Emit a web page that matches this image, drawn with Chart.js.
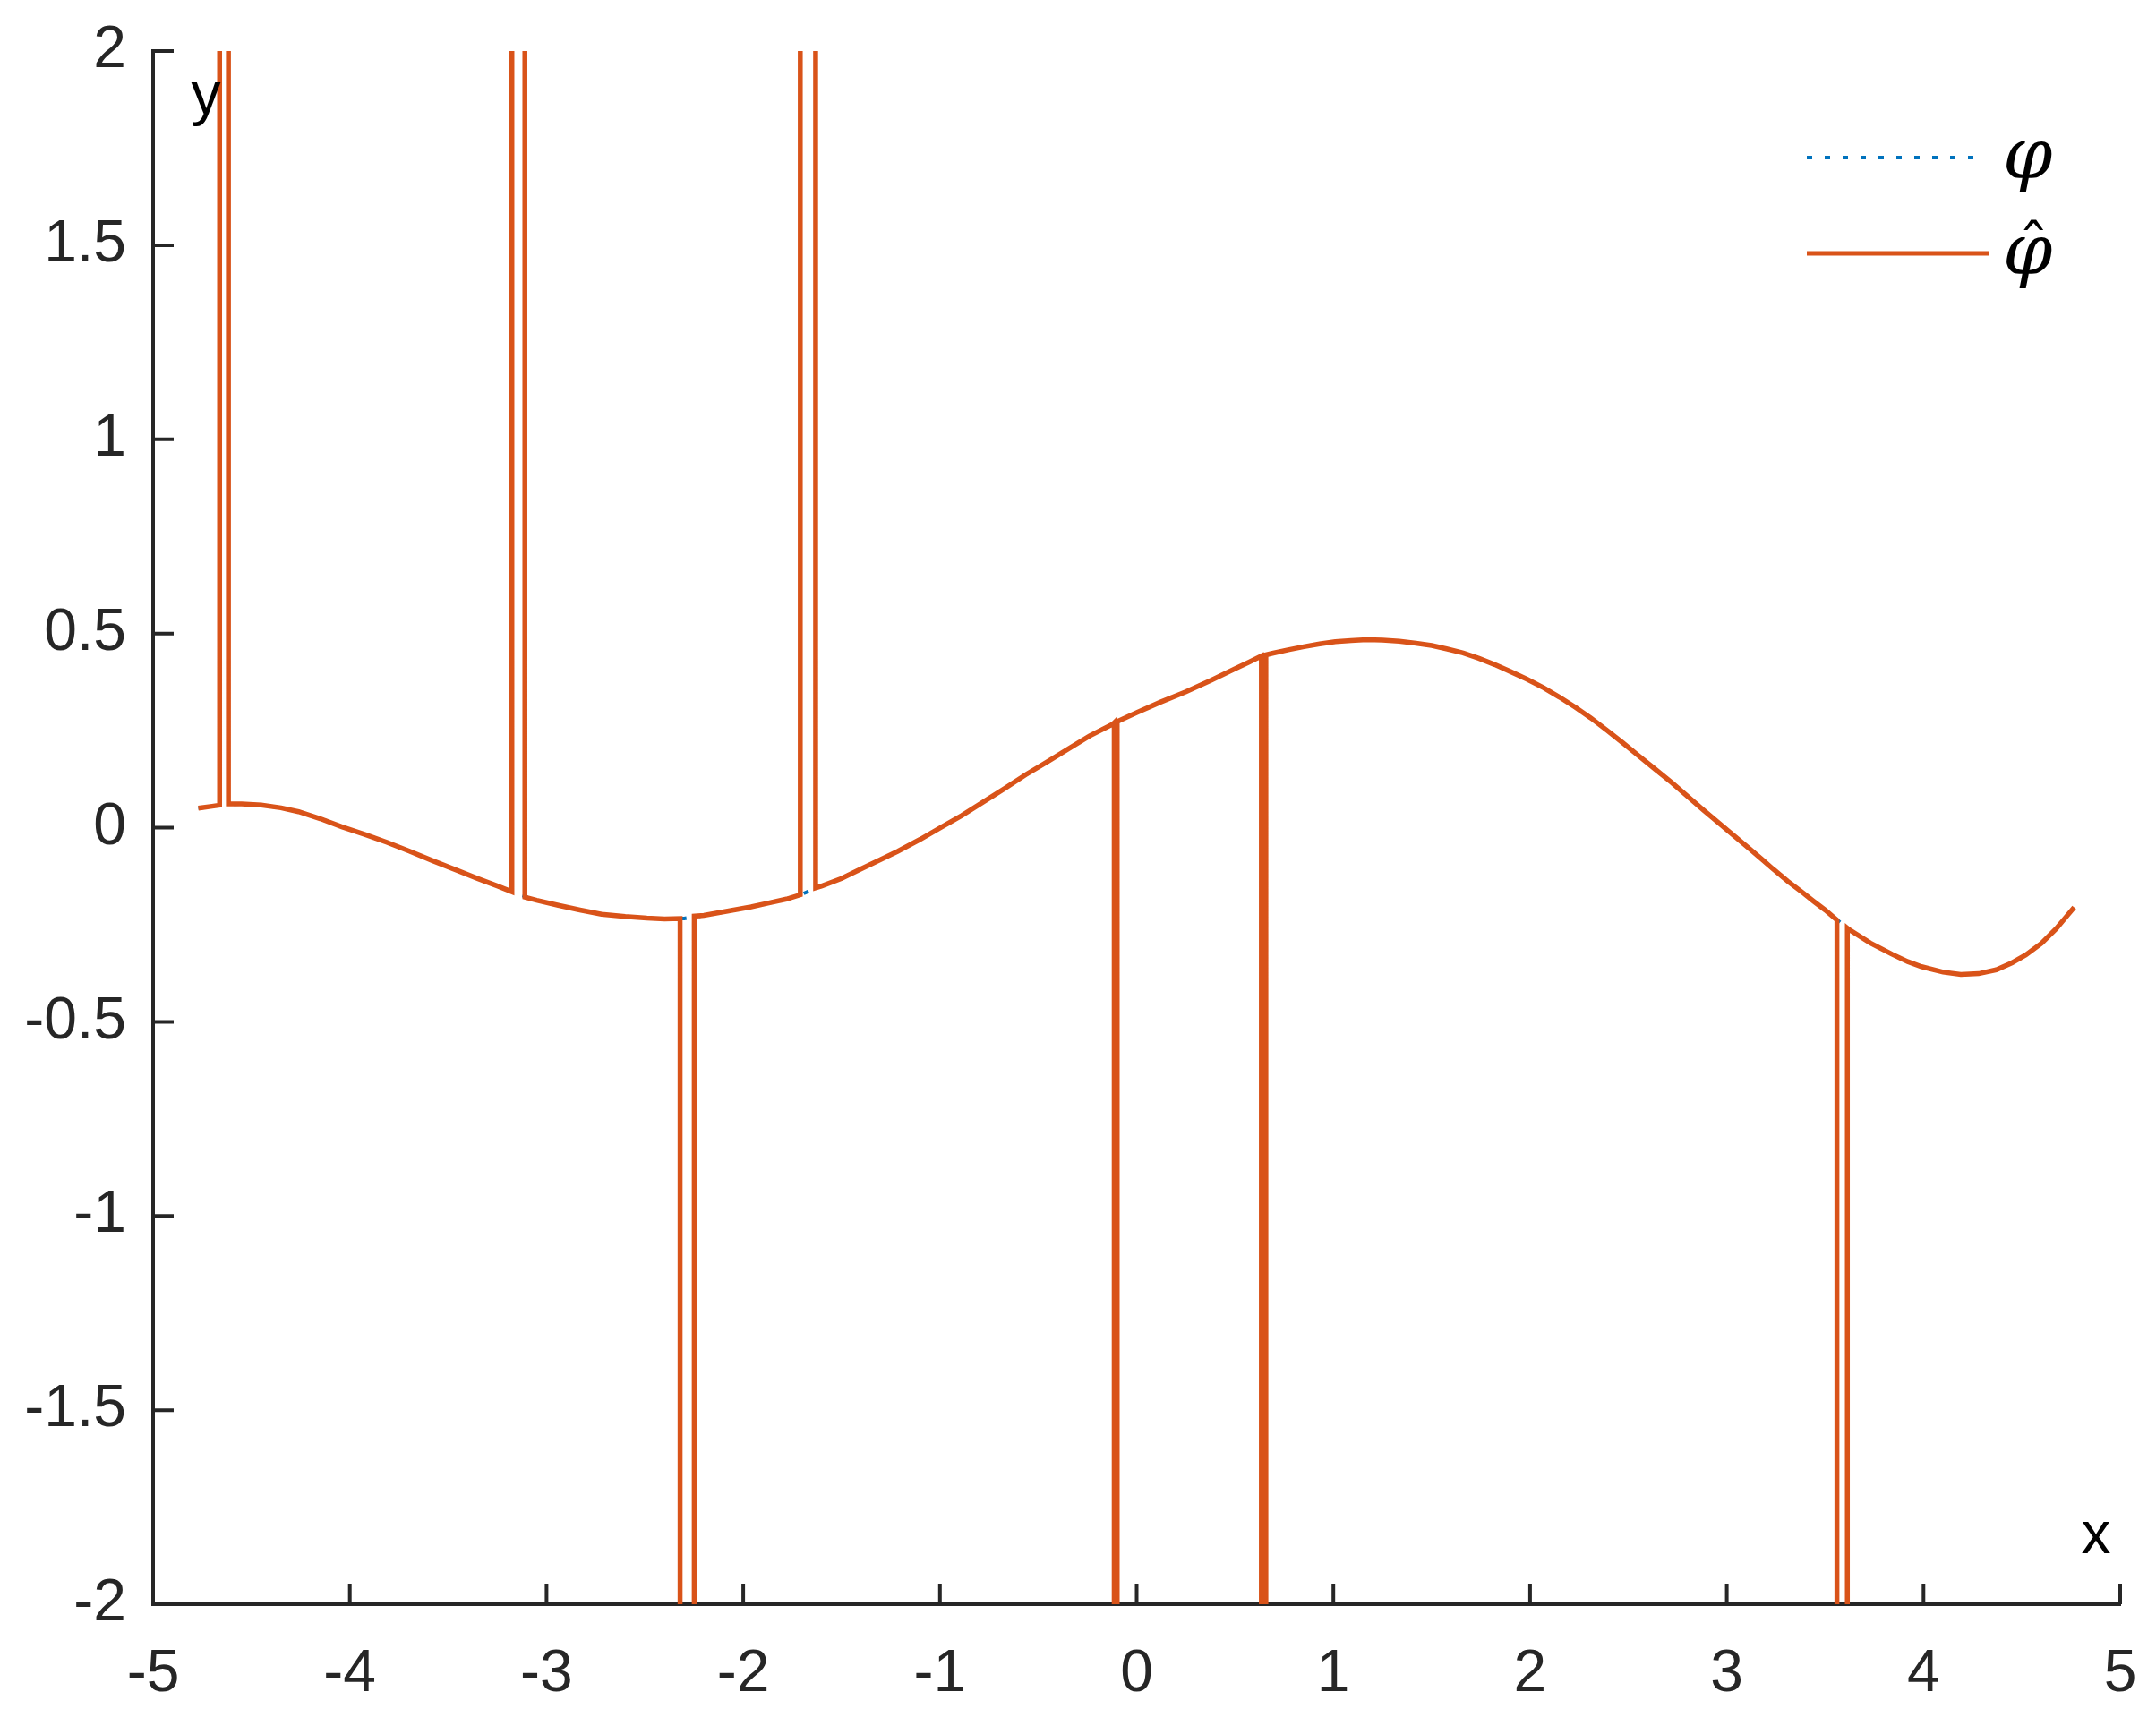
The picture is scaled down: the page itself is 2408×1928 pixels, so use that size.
<!DOCTYPE html>
<html>
<head>
<meta charset="utf-8">
<script src="https://cdn.jsdelivr.net/npm/chart.js@4.4.0/dist/chart.umd.min.js"></script>
<style>
  html, body { margin: 0; padding: 0; background: #fff; }
  #wrap { width: 2408px; height: 1928px; }
</style>
</head>
<body>
<div id="wrap"><canvas id="chart" width="2408" height="1928"></canvas></div>
<script>
// smooth curve phi
const phiX = [-4.77, -4.70, -4.62, -4.55, -4.45, -4.35, -4.26, -4.15, -4.04, -3.92,
              -3.81, -3.70, -3.58, -3.45, -3.35, -3.25, -3.15, -3.05, -2.94, -2.83,
              -2.72, -2.60, -2.49, -2.40, -2.30, -2.20, -2.08, -1.96, -1.87, -1.78,
              -1.70, -1.60, -1.50, -1.40, -1.30, -1.215, -1.10, -1.00, -0.89, -0.78,
              -0.67, -0.565, -0.45, -0.35, -0.24, -0.12, 0.00, 0.12, 0.25, 0.38,
              0.50, 0.57, 0.63, 0.69, 0.77, 0.85, 0.93, 1.01, 1.09, 1.17,
              1.25, 1.335, 1.42, 1.50, 1.58, 1.66, 1.74, 1.82, 1.90, 1.985,
              2.07, 2.15, 2.23, 2.31, 2.39, 2.47, 2.55, 2.635, 2.72, 2.80,
              2.88, 2.96, 3.04, 3.12, 3.18, 3.234, 3.31, 3.385, 3.44, 3.50,
              3.62, 3.73, 3.84, 3.92, 3.99, 4.10, 4.19, 4.28, 4.37, 4.45,
              4.52, 4.60, 4.675, 4.72, 4.766];
const phiY = [0.050, 0.055, 0.060, 0.061, 0.058, 0.051, 0.041, 0.023, 0.002, -0.018,
              -0.038, -0.060, -0.085, -0.111, -0.131, -0.150, -0.170, -0.187, -0.200, -0.212,
              -0.223, -0.229, -0.233, -0.235, -0.234, -0.226, -0.215, -0.204, -0.194, -0.184,
              -0.171, -0.150, -0.131, -0.106, -0.082, -0.061, -0.030, -0.001, 0.031, 0.066,
              0.101, 0.136, 0.171, 0.202, 0.236, 0.267, 0.296, 0.323, 0.350, 0.380,
              0.409, 0.426, 0.441, 0.449, 0.458, 0.466, 0.473, 0.479, 0.482, 0.484,
              0.483, 0.480, 0.475, 0.469, 0.460, 0.450, 0.436, 0.420, 0.402, 0.382,
              0.360, 0.336, 0.310, 0.282, 0.251, 0.219, 0.186, 0.151, 0.116, 0.081,
              0.046, 0.012, -0.022, -0.056, -0.082, -0.106, -0.138, -0.167, -0.189, -0.212,
              -0.262, -0.297, -0.326, -0.345, -0.358, -0.372, -0.378, -0.376, -0.366, -0.348,
              -0.328, -0.298, -0.260, -0.233, -0.205];

// spikes of phi-hat: the line leaves the plot at spikeFrom and comes back at spikeTo
const spikeFrom  = [-4.662, -3.176, -2.321, -1.710, -0.114, 0.634, 3.560];
const spikeTo    = [-4.617, -3.110, -2.249, -1.632, -0.099, 0.657, 3.613];
const spikeFromY = [0.058, -0.165, -0.234, -0.173, 0.270, 0.442, -0.238];
const spikeToY   = [0.061, -0.179, -0.228, -0.155, 0.273, 0.445, -0.259];
const spikeTip   = [40, 40, -40, 40, -40, -40, -40];

const xTicks = [-5, -4, -3, -2, -1, 0, 1, 2, 3, 4, 5];
const yTicks = [-2, -1.5, -1, -0.5, 0, 0.5, 1, 1.5, 2];

const legendLabels = ['\u03C6', '\u03C6'];

function phiPoints() {
    return phiX.map((x, i) => ({ x: x, y: phiY[i] }));
}

function hatPoints() {
    const pts = [];
    let s = 0;
    for (let i = 0; i < phiX.length; i++) {
        const x = phiX[i];
        while (s < spikeFrom.length && spikeFrom[s] < x) {
            pts.push({ x: spikeFrom[s], y: spikeFromY[s] });
            pts.push({ x: spikeFrom[s], y: spikeTip[s] });
            pts.push({ x: spikeTo[s], y: spikeTip[s] });
            pts.push({ x: spikeTo[s], y: spikeToY[s] });
            s++;
        }
        const inGap = spikeFrom.some((a, k) => x > a && x < spikeTo[k]);
        if (!inGap) pts.push({ x: x, y: phiY[i] });
    }
    return pts;
}

const BLUE = '#0072BD';
const ORANGE = '#D95319';
const AXIS = '#262626';
const SYMBOL_FONT = '"DejaVu Serif", "Liberation Serif", serif';

// inner tick marks, axis letters and the legend
const decorations = {
    id: 'decorations',
    afterDraw(chart) {
        const ctx = chart.ctx;
        const a = chart.chartArea;
        const xs = chart.scales.x, ys = chart.scales.y;
        ctx.save();
        ctx.strokeStyle = AXIS;
        ctx.lineWidth = 4;
        ctx.beginPath();
        xTicks.forEach(v => {
            const px = xs.getPixelForValue(v);
            ctx.moveTo(px, a.bottom);
            ctx.lineTo(px, a.bottom - 23);
        });
        yTicks.forEach(v => {
            const py = ys.getPixelForValue(v);
            ctx.moveTo(a.left, py);
            ctx.lineTo(a.left + 23, py);
        });
        ctx.stroke();

        // axis letters
        ctx.fillStyle = '#000';
        ctx.font = '66px "Liberation Sans", Arial, sans-serif';
        ctx.textAlign = 'center';
        ctx.textBaseline = 'alphabetic';
        ctx.fillText('y', 230, 127);
        ctx.fillText('x', 2341, 1735);

        // legend lines
        ctx.lineCap = 'butt';
        ctx.strokeStyle = BLUE;
        ctx.lineWidth = 4;
        ctx.setLineDash([6, 14]);
        ctx.beginPath();
        ctx.moveTo(2018, 176);
        ctx.lineTo(2210, 176);
        ctx.stroke();
        ctx.setLineDash([]);
        ctx.strokeStyle = ORANGE;
        ctx.lineWidth = 5;
        ctx.beginPath();
        ctx.moveTo(2018, 283);
        ctx.lineTo(2221, 283);
        ctx.stroke();

        // legend symbols, sized to the reference glyph boxes
        ctx.textAlign = 'left';
        ctx.font = 'italic 100px ' + SYMBOL_FONT;
        const m = ctx.measureText(legendLabels[0]);
        const h = m.actualBoundingBoxAscent + m.actualBoundingBoxDescent;
        const size = 100 * 57 / h;
        ctx.font = 'italic ' + size + 'px ' + SYMBOL_FONT;
        const m2 = ctx.measureText(legendLabels[0]);
        const asc = m2.actualBoundingBoxAscent;
        const left = m2.actualBoundingBoxLeft;
        ctx.fillText(legendLabels[0], 2240 + left, 158 + asc);
        ctx.fillText(legendLabels[1], 2240 + left, 265 + asc);
        // hat over the second symbol
        ctx.font = size + 'px ' + SYMBOL_FONT;
        const mh = ctx.measureText('\u02C6');
        const hw = mh.actualBoundingBoxLeft + mh.actualBoundingBoxRight;
        const hh = mh.actualBoundingBoxAscent + mh.actualBoundingBoxDescent;
        ctx.save();
        ctx.translate(2260, 245);
        ctx.scale(23 / hw, 12 / hh);
        ctx.fillText('\u02C6', mh.actualBoundingBoxLeft, mh.actualBoundingBoxAscent);
        ctx.restore();
        ctx.restore();
    }
};

new Chart(document.getElementById('chart'), {
    type: 'line',
    data: {
        datasets: [
            {
                label: '\u03C6\u0302',
                data: hatPoints(),
                borderColor: ORANGE,
                borderWidth: 5.5,
                pointRadius: 0,
                tension: 0,
                order: 0
            },
            {
                label: '\u03C6',
                data: phiPoints(),
                borderColor: BLUE,
                borderWidth: 4,
                borderDash: [6, 14],
                pointRadius: 0,
                tension: 0,
                order: 1
            }
        ]
    },
    options: {
        responsive: false,
        devicePixelRatio: 1,
        animation: false,
        layout: { padding: { top: 57, right: 40, left: 0, bottom: 0 } },
        plugins: { legend: { display: false }, tooltip: { enabled: false } },
        scales: {
            x: {
                type: 'linear',
                min: -5,
                max: 5,
                afterBuildTicks: s => { s.ticks = xTicks.map(v => ({ value: v })); },
                afterFit: s => { s.height = 136; s.paddingLeft = 0; s.paddingRight = 0; },
                grid: { display: false },
                border: { display: true, color: AXIS, width: 4 },
                ticks: {
                    color: AXIS,
                    font: { family: '"Liberation Sans", Arial, sans-serif', size: 66 },
                    padding: 31,
                    maxRotation: 0,
                    callback: v => String(v)
                }
            },
            y: {
                type: 'linear',
                min: -2,
                max: 2,
                afterBuildTicks: s => { s.ticks = yTicks.map(v => ({ value: v })); },
                afterFit: s => { s.width = 171; s.paddingTop = 0; s.paddingBottom = 0; },
                grid: { display: false },
                border: { display: true, color: AXIS, width: 4 },
                ticks: {
                    color: AXIS,
                    font: { family: '"Liberation Sans", Arial, sans-serif', size: 66 },
                    padding: 22,
                    callback: v => String(v)
                }
            }
        }
    },
    plugins: [decorations]
});
</script>
</body>
</html>
